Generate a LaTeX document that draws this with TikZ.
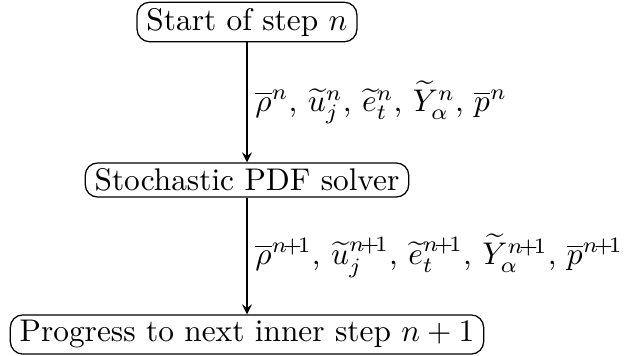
\documentclass[tikz,border=0pt]{standalone}
\newcommand{\nxt}{n\!+\!1}
\begin{document}
\begin{tikzpicture}[>=stealth,x=0.319pt,y=-0.319pt,
			stage/.style={draw,rounded corners,inner xsep=3pt,inner ysep=1.8pt},
			flow/.style={right,inner sep=2.5pt}]
			\useasboundingbox (0,0) rectangle (641,356);
			\node[stage] (start) at (247,22) {Start of step $n$};
			\node[stage] (solver) at (247,180) {Stochastic PDF solver};
			\node[stage] (next) at (247,334.5) {Progress to next inner step $n+1$};
			\draw[->] (start) -- node[flow] {$\overline{\rho}^n$, $\widetilde{u}_j^n$, $\widetilde{e}_t^n$, $\widetilde{Y}_\alpha^n$, $\overline{p}^n$} (solver);
			\draw[->] (solver) -- node[flow] {$\overline{\rho}^{\nxt}$, $\widetilde{u}_j^{\nxt}$, $\widetilde{e}_t^{\nxt}$, $\widetilde{Y}_\alpha^{\nxt}$, $\overline{p}^{\nxt}$} (next);
		\end{tikzpicture}
\end{document}
